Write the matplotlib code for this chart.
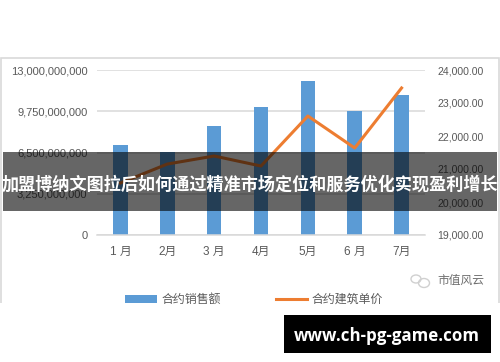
import matplotlib
matplotlib.use("Agg")
import matplotlib.pyplot as plt
from matplotlib.patches import Rectangle, Ellipse
from matplotlib.ticker import FuncFormatter

W, H = 500, 362

months = ["1 月", "2月", "3 月", "4月", "5月", "6 月", "7月"]
sales = [7.09e9, 6.54e9, 8.59e9, 10.08e9, 12.13e9, 9.77e9, 11.03e9]
unit_price = [20576, 21150, 21394, 21090, 22606, 21636, 23455]
left_ticks = [0, 3.25e9, 6.5e9, 9.75e9, 13e9]
right_ticks = [19000, 20000, 21000, 22000, 23000, 24000]

title = "加盟博纳文图拉后如何通过精准市场定位和服务优化实现盈利增长"
site = "www.ch-pg-game.com"
wm = "市值风云"

blue = "#5B9BD5"
orange = "#ED7D31"
grid_c = "#D9D9D9"
text_c = "#595959"

plt.rcParams["font.family"] = ["Liberation Sans", "Noto Sans CJK SC", "DejaVu Sans"]


def fx(x):
    return x / W


def fy(y):
    return 1 - y / H


def box(x0, y0, x1, y1, **kw):
    # pixel coords, y going down like the picture
    return Rectangle((fx(x0), fy(y1)), (x1 - x0) / W, (y1 - y0) / H,
                     transform=fig.transFigure, **kw)


fig = plt.figure(figsize=(W / 100, H / 100), dpi=100, facecolor="white")

# outer chart frame
fig.add_artist(box(0.5, 57.5, 499, 320, fill=False, ec=grid_c, lw=1.2, zorder=-1))

ax = fig.add_axes([fx(97), fy(235), (425 - 97) / W, (235 - 70) / H])
ax.patch.set_alpha(0)
ax.bar(range(7), sales, width=0.31, color=blue, label="合约销售额", zorder=2)
ax.set_xlim(-0.5, 6.5)
ax.set_ylim(0, 13e9)
ax.set_xticks(range(7))
ax.set_xticklabels(months, fontsize=8.5, color=text_c)
ax.set_yticks(left_ticks)
ax.yaxis.set_major_formatter(FuncFormatter(lambda v, p: f"{v:,.0f}"))
ax.tick_params(axis="both", length=0, labelcolor=text_c)
ax.tick_params(axis="y", labelsize=8, pad=7)
ax.tick_params(axis="x", pad=8)
ax.grid(axis="y", color=grid_c, lw=1.1, zorder=0)
ax.set_axisbelow(True)
for s in ["top", "left", "right"]:
    ax.spines[s].set_visible(False)
ax.spines["bottom"].set_color(grid_c)
ax.spines["bottom"].set_linewidth(1.1)

ax2 = ax.twinx()
ax2.plot(range(7), unit_price, color=orange, lw=2.2, label="合约建筑单价", zorder=3)
ax2.set_ylim(19000, 24000)
ax2.set_yticks(right_ticks)
ax2.yaxis.set_major_formatter(FuncFormatter(lambda v, p: f"{v:,.2f}"))
ax2.tick_params(axis="y", length=0, labelsize=7.6, labelcolor=text_c, pad=9)
for s in ax2.spines.values():
    s.set_visible(False)

h1, l1 = ax.get_legend_handles_labels()
h2, l2 = ax2.get_legend_handles_labels()
fig.legend(h1 + h2, l1 + l2, ncol=2, loc="center", bbox_to_anchor=(fx(254), fy(300)),
           frameon=False, fontsize=8.6, labelcolor=text_c, handlelength=2.67,
           handletextpad=0.35, columnspacing=4.6, borderpad=0, borderaxespad=0)

# watermark
fig.text(fx(437), fy(281), wm, fontsize=8.5, color="#6E6E6E", va="center", ha="left")
fig.add_artist(Ellipse((fx(416), fy(279)), 10 / W, 8 / H, transform=fig.transFigure,
                       fill=False, ec="#D0D0D0", lw=1))
fig.add_artist(Ellipse((fx(424), fy(283)), 11 / W, 9 / H, transform=fig.transFigure,
                       fill=False, ec="#D0D0D0", lw=1))

# everything under y=302 is cut off in the picture
fig.add_artist(box(0, 302.5, W, H, fc="white", ec="none", zorder=4))

# title band over the chart
fig.add_artist(box(3, 152, 497, 211, fc="black", ec="none", alpha=0.6, zorder=5))
fig.text(0.5, fy(184), title, color="white", fontsize=12.3, fontweight="bold",
         ha="center", va="center", zorder=6)

# site label
fig.add_artist(box(284, 315, 491, 353, fc="black", ec="none", zorder=5))
fig.text(fx(387), fy(336), site, color="white", fontsize=12.2, fontweight="bold",
         ha="center", va="center", family="Open Sans", zorder=6)

fig.savefig("out.png", dpi=100)
